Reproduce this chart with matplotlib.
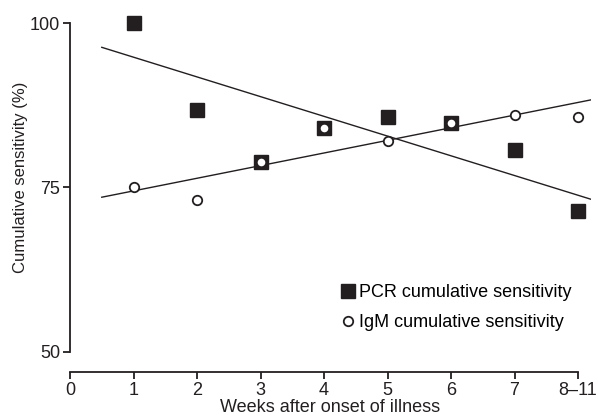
import matplotlib.pyplot as plt

plt.rcParams['font.family'] = ['Liberation Sans', 'DejaVu Sans']

# weeks after onset (8 stands for weeks 8-11)
weeks = [1, 2, 3, 4, 5, 6, 7, 8]
week_labels = ["0", "1", "2", "3", "4", "5", "6", "7", "8\u201311"]
pcr = [100.0, 86.8, 78.9, 84.0, 85.7, 84.8, 80.7, 71.4]
igm = [75.0, 73.1, 78.9, 84.0, 82.1, 84.8, 86.0, 85.7]

# trend line end points
trend_x = [0.5, 8.2]
pcr_trend = [96.3, 73.2]
igm_trend = [73.5, 88.3]

ink = "#231f20"

fig = plt.figure(figsize=(5.98, 4.19), dpi=100)
ax = fig.add_axes([0.1171, 0.1606, 0.8707, 0.7845])

ax.plot(trend_x, pcr_trend, color=ink, lw=1.0, zorder=2)
ax.plot(trend_x, igm_trend, color=ink, lw=1.0, zorder=2)
ax.plot(weeks, pcr, linestyle="none", marker="s", ms=10.5, color=ink,
        label="PCR cumulative sensitivity", clip_on=False, zorder=3)
ax.plot(weeks, igm, linestyle="none", marker="o", ms=6.8, mfc="white",
        mec=ink, mew=1.3, label="IgM cumulative sensitivity",
        clip_on=False, zorder=4)

ax.set_xlim(0, 8.2)
ax.set_ylim(50, 100)
ax.set_xticks(range(9))
ax.set_xticklabels(week_labels)
ax.set_yticks([50, 75, 100])

for side in ["top", "right"]:
    ax.spines[side].set_visible(False)
ax.spines["bottom"].set_position(("outward", 14.8))
ax.spines["bottom"].set_bounds(0, 8)
for side in ["left", "bottom"]:
    ax.spines[side].set_color(ink)
    ax.spines[side].set_linewidth(1.3)
ax.tick_params(colors=ink, labelsize=13, length=5, width=1.3, pad=2)

ax.set_xlabel("Weeks after onset of illness", fontsize=13, color=ink, labelpad=0)
ax.set_ylabel("Cumulative sensitivity (%)", fontsize=12, color=ink)
ax.yaxis.set_label_coords(-0.08, 0.53)

ax.legend(loc="upper left", bbox_to_anchor=(0.517, 0.205), frameon=False,
          fontsize=13, handletextpad=0.1, labelspacing=0.7,
          handlelength=1.0, borderaxespad=0, borderpad=0)

fig.savefig("out.png", dpi=100)
